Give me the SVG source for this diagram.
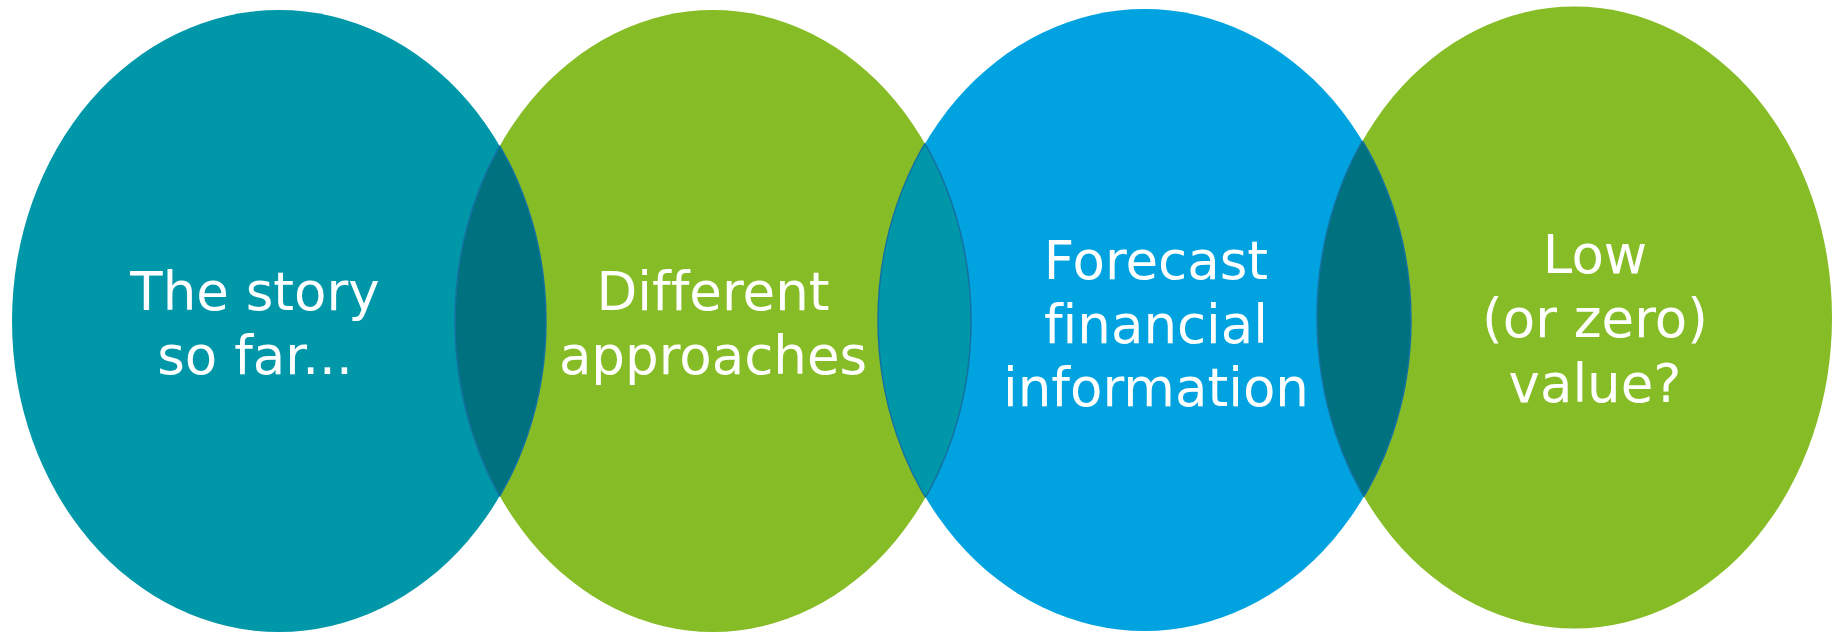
<svg xmlns="http://www.w3.org/2000/svg" width="1836" height="633" viewBox="0 0 1836 633">
  <style>
    .teal { fill: #0097A9; }
    .green { fill: #86BC25; }
    .blue { fill: #00A3E0; }
    .lens-dark { fill: #00717F; stroke: #1472A2; stroke-width: 1.5; }
    .lens-teal { fill: #0097A9; stroke: #1472A2; stroke-width: 1.5; }
    .edge { fill: none; stroke: #1472A2; stroke-width: 1.5; }
    .label { font-family: "DejaVu Sans", Verdana, sans-serif; font-size: 53px; fill: #FFFFFF; text-anchor: middle; font-variant-ligatures: none; font-feature-settings: "liga" 0, "clig" 0; }
  </style>
  <defs>
    <clipPath id="clip-e1"><ellipse cx="279" cy="321" rx="267" ry="311"/></clipPath>
    <clipPath id="clip-e2"><ellipse cx="713" cy="321" rx="258" ry="311"/></clipPath>
    <clipPath id="clip-e3"><ellipse cx="1144.5" cy="320" rx="266.5" ry="311"/></clipPath>
    <clipPath id="clip-e4"><ellipse cx="1574.5" cy="317.5" rx="257.5" ry="311"/></clipPath>
  </defs>

  <!-- four overlapping ovals -->
  <g id="story">
    <ellipse class="teal" cx="279" cy="321" rx="267" ry="311"/>
  </g>
  <g id="approaches">
    <ellipse class="green" cx="713" cy="321" rx="258" ry="311"/>
  </g>
  <g id="forecast">
    <ellipse class="blue" cx="1144.5" cy="320" rx="266.5" ry="311"/>
  </g>
  <g id="value">
    <ellipse class="green" cx="1574.5" cy="317.5" rx="257.5" ry="311"/>
  </g>

  <!-- overlap lenses between neighbouring ovals -->
  <g id="overlaps">
    <g clip-path="url(#clip-e1)">
      <ellipse class="lens-dark" cx="713" cy="321" rx="258" ry="311"/>
    </g>
    <g clip-path="url(#clip-e2)">
      <ellipse class="edge" cx="279" cy="321" rx="267" ry="311"/>
    </g>
    <g clip-path="url(#clip-e2)">
      <ellipse class="lens-teal" cx="1144.5" cy="320" rx="266.5" ry="311"/>
    </g>
    <g clip-path="url(#clip-e3)">
      <ellipse class="edge" cx="713" cy="321" rx="258" ry="311"/>
    </g>
    <g clip-path="url(#clip-e3)">
      <ellipse class="lens-dark" cx="1574.5" cy="317.5" rx="257.5" ry="311"/>
    </g>
    <g clip-path="url(#clip-e4)">
      <ellipse class="edge" cx="1144.5" cy="320" rx="266.5" ry="311"/>
    </g>
  </g>

  <!-- labels -->
  <g id="labels">
    <text class="label" x="255" y="310">The story</text>
    <text class="label" x="255" y="374">so far...</text>
    <text class="label" x="713" y="310">Different</text>
    <text class="label" x="713" y="374">approaches</text>
    <text class="label" x="1156" y="279">Forecast</text>
    <text class="label" x="1156" y="343">financial</text>
    <text class="label" x="1156" y="406">information</text>
    <text class="label" x="1595" y="273">Low</text>
    <text class="label" x="1595" y="337">(or zero)</text>
    <text class="label" x="1595" y="402">value?</text>
  </g>
</svg>
